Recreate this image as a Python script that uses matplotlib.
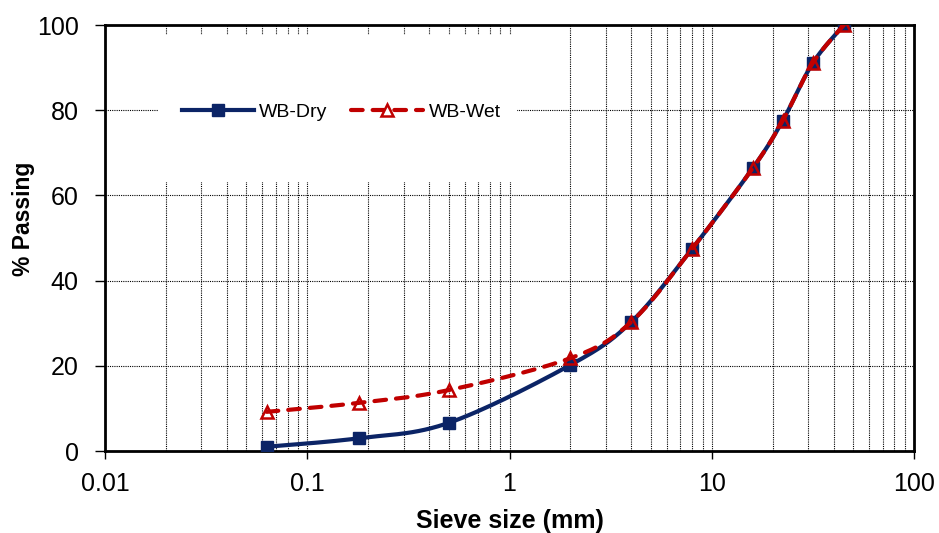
import numpy as np
import matplotlib
matplotlib.use('Agg')
import matplotlib.pyplot as plt
from matplotlib.ticker import LogLocator, FixedLocator, NullFormatter, FuncFormatter
from matplotlib.patches import Rectangle

plt.rcParams['font.family'] = ['Liberation Sans', 'DejaVu Sans']

# sieve sizes (mm) and percent passing
sieve = [0.063, 0.18, 0.5, 2, 4, 8, 16, 22.4, 31.5, 45]
wb_dry = [1.0, 3.0, 6.6, 20.2, 30.3, 47.5, 66.5, 77.5, 91.0, 100.0]
wb_wet = [9.2, 11.3, 14.3, 21.8, 30.3, 47.5, 66.5, 77.5, 91.0, 100.0]

x_ticks = [0.01, 0.1, 1, 10, 100]
y_ticks = [0, 20, 40, 60, 80, 100]


def smooth(xs, ys, n=30):
    # Excel style smoothed line: cardinal spline in log-x space
    lx = np.log10(xs)
    ys = np.asarray(ys, float)
    px = np.concatenate([[lx[0]], lx, [lx[-1]]])
    py = np.concatenate([[ys[0]], ys, [ys[-1]]])
    outx, outy = [], []
    t = np.linspace(0, 1, n)
    for i in range(1, len(px) - 2):
        p0, p1, p2, p3 = (np.array([px[j], py[j]]) for j in range(i - 1, i + 3))
        m1 = (p2 - p0) / 6
        m2 = (p3 - p1) / 6
        b0, b1, b2, b3 = p1, p1 + m1, p2 - m2, p2
        pts = (np.outer((1 - t) ** 3, b0) + np.outer(3 * (1 - t) ** 2 * t, b1)
               + np.outer(3 * (1 - t) * t ** 2, b2) + np.outer(t ** 3, b3))
        outx.extend(pts[:, 0])
        outy.extend(pts[:, 1])
    return 10 ** np.array(outx), np.array(outy)


fig = plt.figure(figsize=(9.39, 5.33), dpi=100)
ax = fig.add_axes([0.1118, 0.1538, 0.8616, 0.7992])

navy = '#0b2466'
red = '#c00000'
dash = (0, (2.8, 2.4))

sx, sy = smooth(sieve, wb_dry)
ax.plot(sx, sy, color=navy, lw=3, zorder=3, solid_capstyle='round')
ax.plot(sieve, wb_dry, ls='none', marker='s', ms=8.5, color=navy, zorder=4)
ax.plot([], [], color=navy, lw=3, marker='s', ms=8.5, label='WB-Dry')

wx, wy = smooth(sieve, wb_wet)
ax.plot(wx, wy, color=red, lw=3, ls=dash, dash_capstyle='round', zorder=5)
ax.plot(sieve, wb_wet, ls='none', marker='^', ms=9, mfc='none', mec=red, mew=1.8, zorder=6)
ax.plot([], [], color=red, lw=3, ls=dash, dash_capstyle='round',
        marker='^', ms=9, mfc='white', mec=red, mew=1.8, label='WB-Wet')

ax.set_xscale('log')
ax.set_xlim(0.01, 100)
ax.set_ylim(0, 100)
ax.xaxis.set_major_locator(FixedLocator(x_ticks))
ax.xaxis.set_major_formatter(FuncFormatter(lambda v, p: f'{v:g}'))
ax.xaxis.set_minor_locator(LogLocator(base=10, subs=np.arange(2, 10)))
ax.xaxis.set_minor_formatter(NullFormatter())
ax.set_yticks(y_ticks)

ax.grid(True, which='both', axis='x', color='black', ls=(0, (1, 1)), lw=0.8)
ax.grid(True, which='major', axis='y', color='black', ls=(0, (1, 1)), lw=0.8)
ax.set_axisbelow(True)

ax.tick_params(axis='both', which='major', direction='out', length=6, width=1,
               labelsize=18, pad=9)
ax.tick_params(axis='y', which='major', length=7, pad=12)
ax.tick_params(axis='x', which='minor', length=0)
for s in ax.spines.values():
    s.set_linewidth(2)
    s.set_color('black')

# white legend area that hides the grid
ax.add_patch(Rectangle((0.0655, 0.631), 0.4435, 0.346, transform=ax.transAxes,
                       facecolor='white', edgecolor='none', zorder=2))
ax.legend(loc='center', bbox_to_anchor=(0.292, 0.795), ncol=2, frameon=False,
          fontsize=14, handlelength=3.7, columnspacing=1.25, handletextpad=0.26)

ax.set_xlabel('Sieve size (mm)', fontsize=18, fontweight='bold')
ax.set_ylabel('% Passing', fontsize=16.5, fontweight='bold')
ax.xaxis.set_label_coords(0.5, -0.136)
ax.yaxis.set_label_coords(-0.086, 0.545)

fig.savefig('out.png', dpi=100)
